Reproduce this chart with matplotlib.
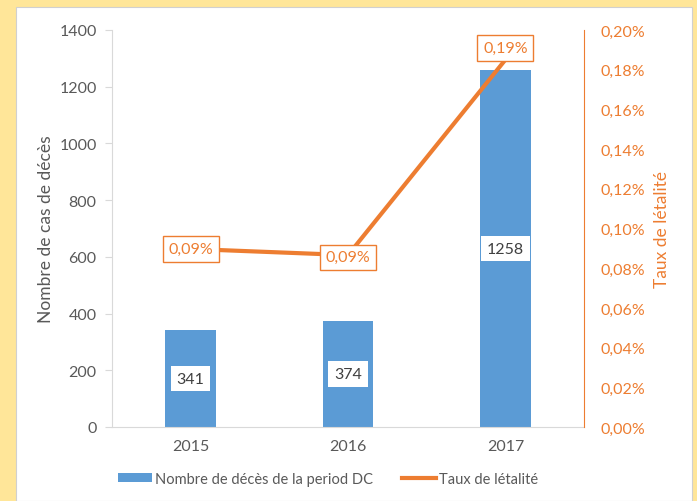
import numpy as np
import matplotlib
matplotlib.use('Agg')
import matplotlib.pyplot as plt
from matplotlib.patches import Rectangle

plt.rcParams['font.family'] = ['Lato', 'DejaVu Sans']

years = ['2015', '2016', '2017']
deces = [341, 374, 1258]
taux = [0.0897, 0.0866, 0.185]
taux_labels = ['0,09%', '0,09%', '0,19%']

blue = '#5B9BD5'
orange = '#ED7D31'
grey = '#595959'

fig = plt.figure(figsize=(6.97, 5.02), dpi=100, facecolor='#FFE699')
fig.patches.append(Rectangle((16/697, 0), 676/697, 494/502, transform=fig.transFigure,
                             facecolor='white', edgecolor='#D0D0D0', lw=0.8, zorder=-5))

ax = fig.add_axes([112/697, 74/502, 472/697, 397/502])
ax.set_facecolor('none')
x = np.arange(len(years))
ax.bar(x, deces, width=0.32, color=blue, zorder=2)
ax.set_xlim(-0.5, 2.5)
ax.set_ylim(0, 1400)
ax.set_yticks(range(0, 1401, 200))
ax.set_xticks(x)
ax.set_xticklabels(years)
ax.tick_params(axis='y', colors='#D9D9D9', labelcolor=grey, labelsize=11.5, length=5, pad=6)
ax.tick_params(axis='x', length=0, labelcolor=grey, labelsize=11.5, pad=9)
for s in ['top', 'right']:
    ax.spines[s].set_visible(False)
ax.spines['left'].set_color('#D9D9D9')
ax.spines['bottom'].set_color('#D9D9D9')
ax.set_ylabel('Nombre de cas de décès', color=grey, fontsize=12.5, labelpad=4)

for xi, v in zip(x, deces):
    ax.text(xi, v / 2, str(v), ha='center', va='center', fontsize=11.5, color='#404040', zorder=4,
            bbox=dict(boxstyle='square,pad=0.36', facecolor='white', edgecolor='none'))

ax2 = ax.twinx()
ax2.plot(x, taux, color=orange, lw=3, zorder=3)
ax2.set_ylim(0, 0.2)
ax2.set_yticks(np.arange(0, 0.201, 0.02))
ax2.set_yticklabels([('%.2f%%' % t).replace('.', ',') for t in np.arange(0, 0.201, 0.02)])
ax2.tick_params(axis='y', length=0, labelcolor=orange, labelsize=11.5, pad=12)
for s in ['top', 'left', 'bottom']:
    ax2.spines[s].set_visible(False)
ax2.spines['right'].set_color(orange)
ax2.set_ylabel('Taux de létalité', color=orange, fontsize=12.5, labelpad=6)

offsets = [(0, 0), (0, -1.5), (0, 8.5)]
for xi, t, lab, off in zip(x, taux, taux_labels, offsets):
    ax2.annotate(lab, (xi, t), xytext=off, textcoords='offset points', ha='center', va='center',
                 fontsize=11.5, color=orange, zorder=5,
                 bbox=dict(boxstyle='square,pad=0.35', facecolor='white', edgecolor=orange, lw=1))

h1 = Rectangle((0, 0), 1, 1, facecolor=blue)
h2 = plt.Line2D([0], [0], color=orange, lw=3)
fig.legend([h1, h2], ['Nombre de décès de la period DC', 'Taux de létalité'], loc='center',
           bbox_to_anchor=(328/697, 22/502), ncol=2, frameon=False, fontsize=10.5,
           labelcolor=grey, handlelength=2.35, handleheight=0.6, handletextpad=0.2, columnspacing=2.0)

fig.savefig('out.png', dpi=100, facecolor=fig.get_facecolor())
